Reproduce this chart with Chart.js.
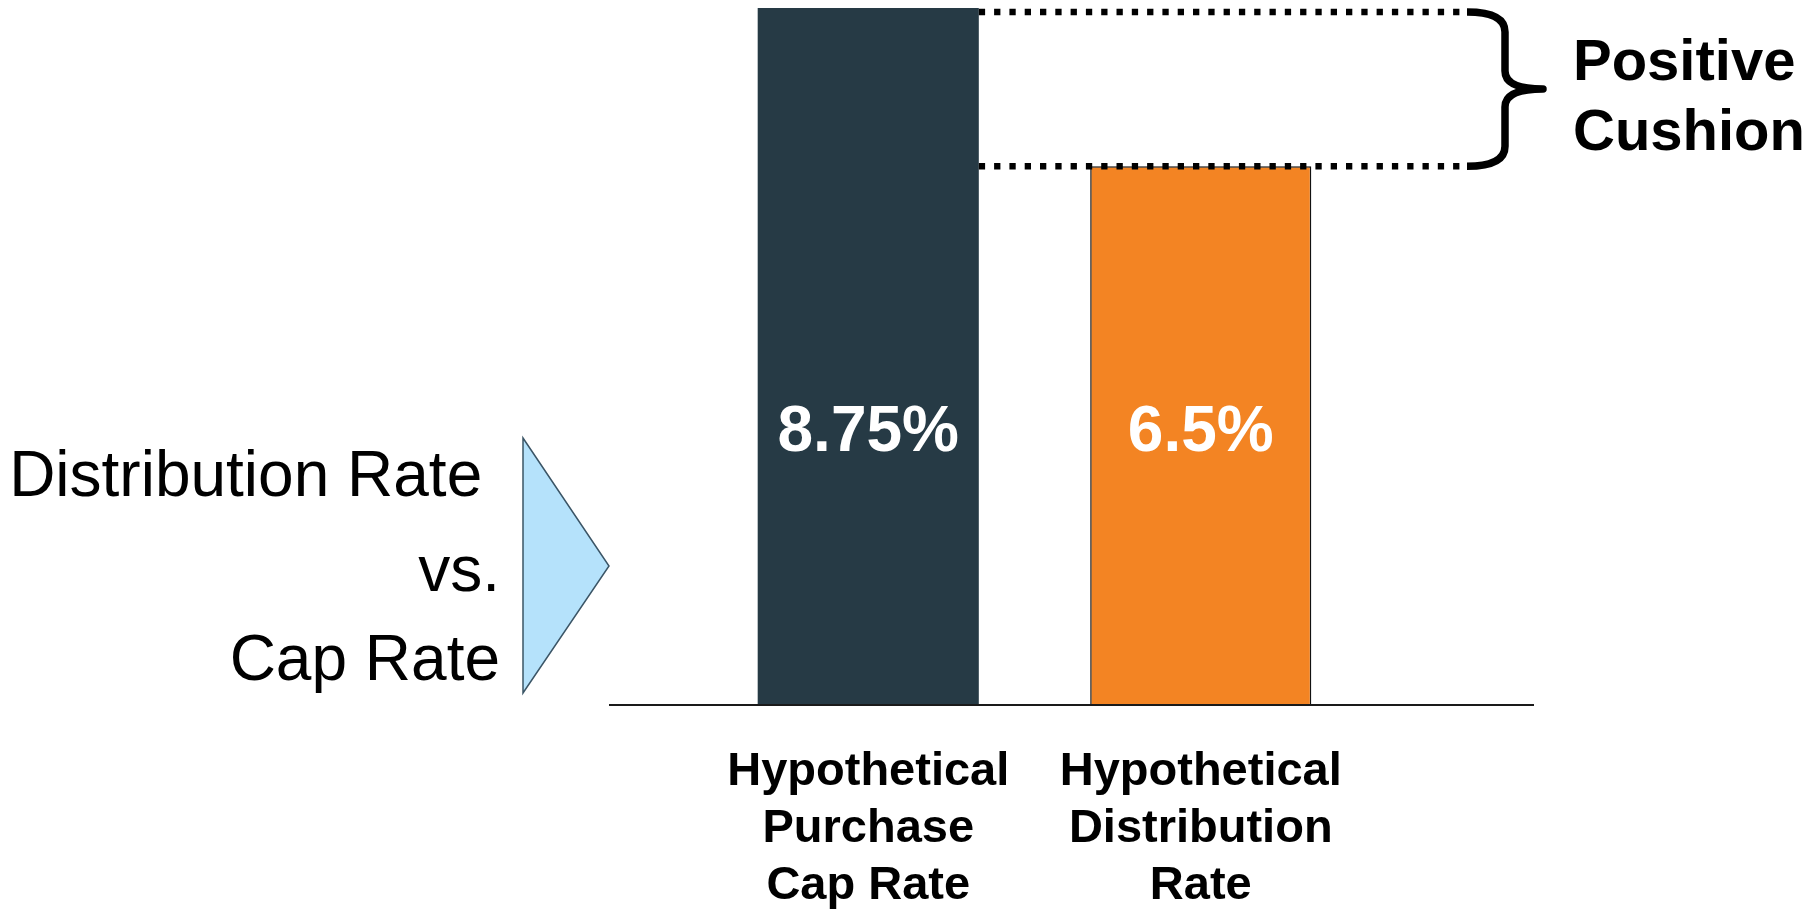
<!DOCTYPE html>
<html>
<head>
<meta charset="utf-8">
<title>Distribution Rate vs. Cap Rate</title>
<script src="https://cdn.jsdelivr.net/npm/chart.js@4.4.1/dist/chart.umd.min.js"></script>
<style>
  html, body { margin: 0; padding: 0; background: #ffffff; }
  canvas { display: block; }
</style>
</head>
<body>
<canvas id="chart" width="1818" height="909"></canvas>
<script>
'use strict';
// categories (tick labels, one line per entry)
const categories = [
    ['Hypothetical', 'Purchase', 'Cap Rate'],
    ['Hypothetical', 'Distribution', 'Rate']
];
// rates in %
const rates = [8.75, 6.5];
// texts around the chart
const captionLines = ['Distribution Rate ', 'vs.', 'Cap Rate'];
const cushionLines = ['Positive', 'Cushion'];

// styles
const barColors = ['#263a45', '#f38423'];
const barBorders = ['#263a45', '#111111'];
const barBorderWidths = [0, 1.5];
const FONT = '"Liberation Sans", Arial, sans-serif';
// the picture is not drawn from zero, the bars start lower
const Y_MIN = -1.15;
// height (axis units) where the value labels sit
const VALUE_LABEL_AT = 2.7;

//plugin pour dessiner tout ce qui n'est pas une barre
const decor = {
    id: 'decor',
    afterDatasetsDraw(chart) {
        const ctx = chart.ctx;
        const area = chart.chartArea;
        const x = chart.scales.x;
        const y = chart.scales.y;
        const meta = chart.getDatasetMeta(0);

        ctx.save();
        //ligne de base
        ctx.strokeStyle = '#1a1a1a';
        ctx.lineWidth = 2;
        ctx.beginPath();
        ctx.moveTo(area.left - 93, area.bottom + 1);
        ctx.lineTo(area.right + 167, area.bottom + 1);
        ctx.stroke();

        //valeurs dans les barres
        ctx.fillStyle = '#ffffff';
        ctx.font = 'bold 64px ' + FONT;
        ctx.textAlign = 'center';
        ctx.textBaseline = 'middle';
        rates.forEach((v, i) => {
            ctx.fillText(v + '%', x.getPixelForValue(i), y.getPixelForValue(VALUE_LABEL_AT));
        });

        //lignes pointillées entre le haut des barres
        const bar1 = meta.data[0];
        const top1 = y.getPixelForValue(rates[0]) + 4;
        const top2 = y.getPixelForValue(rates[1]);
        const xStart = bar1.x + bar1.width / 2;
        const xEnd = 1461;
        ctx.strokeStyle = '#000000';
        ctx.lineWidth = 6.5;
        ctx.setLineDash([6.3, 9]);
        [top1, top2].forEach(yy => {
            ctx.beginPath();
            ctx.moveTo(xStart, yy);
            ctx.lineTo(xEnd, yy);
            ctx.stroke();
        });
        ctx.setLineDash([]);

        //accolade
        const bx = 1505, tip = 1543, mid = (top1 + top2) / 2;
        ctx.lineWidth = 7.5;
        ctx.lineCap = 'butt';
        ctx.lineJoin = 'round';
        ctx.beginPath();
        ctx.moveTo(1467, top1);
        ctx.quadraticCurveTo(bx, top1, bx, top1 + 20);
        ctx.lineTo(bx, mid - 18);
        ctx.quadraticCurveTo(bx, mid, tip, mid);
        ctx.quadraticCurveTo(bx, mid, bx, mid + 18);
        ctx.lineTo(bx, top2 - 20);
        ctx.quadraticCurveTo(bx, top2, 1467, top2);
        ctx.stroke();

        //texte "Positive Cushion"
        ctx.fillStyle = '#000000';
        ctx.font = 'bold 58px ' + FONT;
        ctx.textAlign = 'left';
        ctx.textBaseline = 'alphabetic';
        ctx.fillText(cushionLines[0], 1573, 80);
        ctx.fillText(cushionLines[1], 1573, 150);

        //texte de gauche
        ctx.font = '64px ' + FONT;
        ctx.textAlign = 'right';
        const baselines = [496, 591, 680];
        captionLines.forEach((t, i) => ctx.fillText(t, 500, baselines[i]));

        //triangle bleu
        ctx.fillStyle = '#b5e2fb';
        ctx.strokeStyle = '#3b5566';
        ctx.lineWidth = 1.5;
        ctx.lineJoin = 'miter';
        ctx.beginPath();
        ctx.moveTo(523, 438);
        ctx.lineTo(609, 566);
        ctx.lineTo(523, 693);
        ctx.closePath();
        ctx.fill();
        ctx.stroke();
        ctx.restore();
    }
};

const ctx = document.getElementById('chart').getContext('2d');
new Chart(ctx, {
    type: 'bar',
    data: {
        labels: categories,
        datasets: [{
            data: rates,
            backgroundColor: barColors,
            borderColor: barBorders,
            borderWidth: barBorderWidths,
            base: Y_MIN,
            categoryPercentage: 1,
            barPercentage: 0.665
        }]
    },
    options: {
        responsive: false,
        animation: false,
        layout: { padding: { left: 702, right: 451, top: 8, bottom: 0 } },
        plugins: { legend: { display: false }, tooltip: { enabled: false } },
        scales: {
            x: {
                grid: { display: false, drawTicks: false },
                border: { display: false },
                ticks: {
                    color: '#000000',
                    padding: 40,
                    maxRotation: 0,
                    autoSkip: false,
                    font: { family: FONT, size: 47, weight: 'bold', lineHeight: 1.21 }
                },
                afterFit: scale => { scale.height = 205; }
            },
            y: {
                display: false,
                min: Y_MIN,
                max: 8.75
            }
        }
    },
    plugins: [decor]
});
</script>
</body>
</html>
